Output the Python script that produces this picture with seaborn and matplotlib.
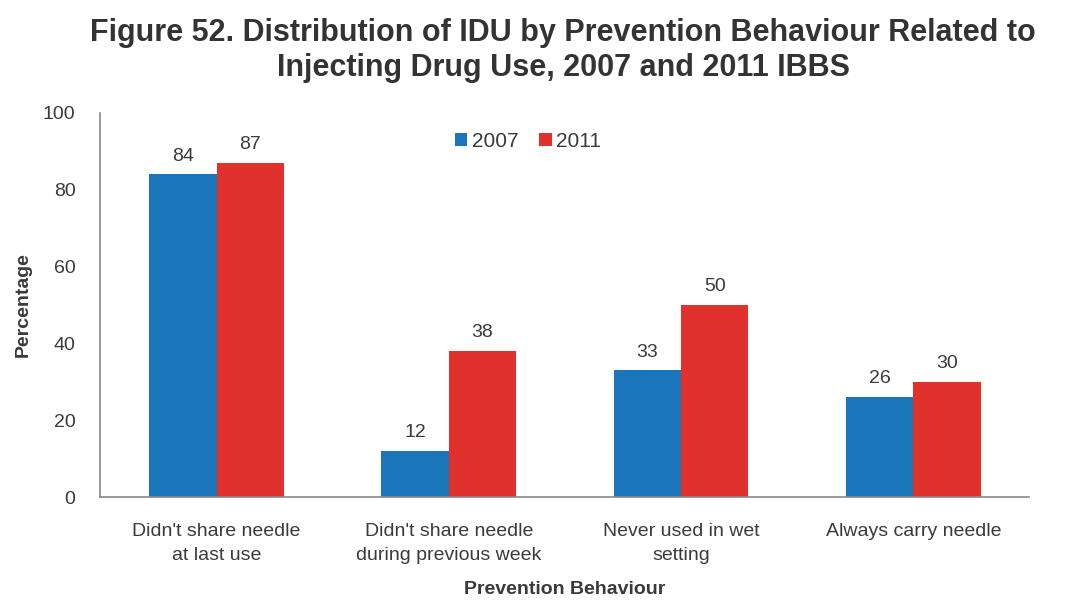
import matplotlib
matplotlib.use("Agg")
import matplotlib.pyplot as plt
import seaborn as sns
import pandas as pd

categories = ["Didn't share needle\nat last use",
              "Didn't share needle\nduring previous week",
              "Never used in wet\nsetting",
              "Always carry needle"]
years = ["2007", "2011"]
values_2007 = [84, 12, 33, 26]
values_2011 = [87, 38, 50, 30]

df = pd.DataFrame({
    "Behaviour": categories * 2,
    "Year": [years[0]] * 4 + [years[1]] * 4,
    "Percentage": values_2007 + values_2011,
})

sns.set_theme(style="white")
plt.rcParams["font.family"] = ["Liberation Sans", "DejaVu Sans"]

palette = {"2007": "#1A75BB", "2011": "#E0312C"}
text_col = "#3A3A3A"

fig = plt.figure(figsize=(10.69, 6.01), dpi=100)
ax = fig.add_axes([0.094, 0.173, 0.869, 0.639])

sns.barplot(data=df, x="Behaviour", y="Percentage", hue="Year",
            palette=palette, width=0.58, saturation=1, linewidth=0,
            ax=ax, legend=True)

for cont in ax.containers:
    ax.bar_label(cont, fmt="%d", padding=7, fontsize=14, color=text_col)

ax.set_ylim(0, 100)
ax.set_yticks([0, 20, 40, 60, 80, 100])
ax.tick_params(axis="y", length=4, width=0.8, color="#888888", labelsize=14,
               labelcolor=text_col, direction="out", pad=14)
ax.tick_params(axis="x", length=0, labelsize=14, labelcolor=text_col, pad=19)
for lbl in ax.get_xticklabels():
    lbl.set_linespacing(1.5)
for s in ["top", "right"]:
    ax.spines[s].set_visible(False)
for s in ["left", "bottom"]:
    ax.spines[s].set_color("#888888")
    ax.spines[s].set_linewidth(1.2)

ax.set_xlabel("Prevention Behaviour", fontsize=14, fontweight="bold",
              color=text_col, labelpad=12)
ax.set_ylabel("Percentage", fontsize=14, fontweight="bold",
              color=text_col, labelpad=8)

leg = ax.legend(loc="upper center", bbox_to_anchor=(0.46, 1.0), ncol=2,
                frameon=False, fontsize=15, handlelength=0.6, handleheight=0.6,
                handletextpad=0.2, columnspacing=1.0)
for t in leg.get_texts():
    t.set_color(text_col)

fig.suptitle("Figure 52. Distribution of IDU by Prevention Behaviour Related to\n"
             "Injecting Drug Use, 2007 and 2011 IBBS",
             x=0.527, y=0.97, fontsize=22, fontweight="bold",
             color="#333333", linespacing=1.2)

fig.savefig("out.png", dpi=100)
